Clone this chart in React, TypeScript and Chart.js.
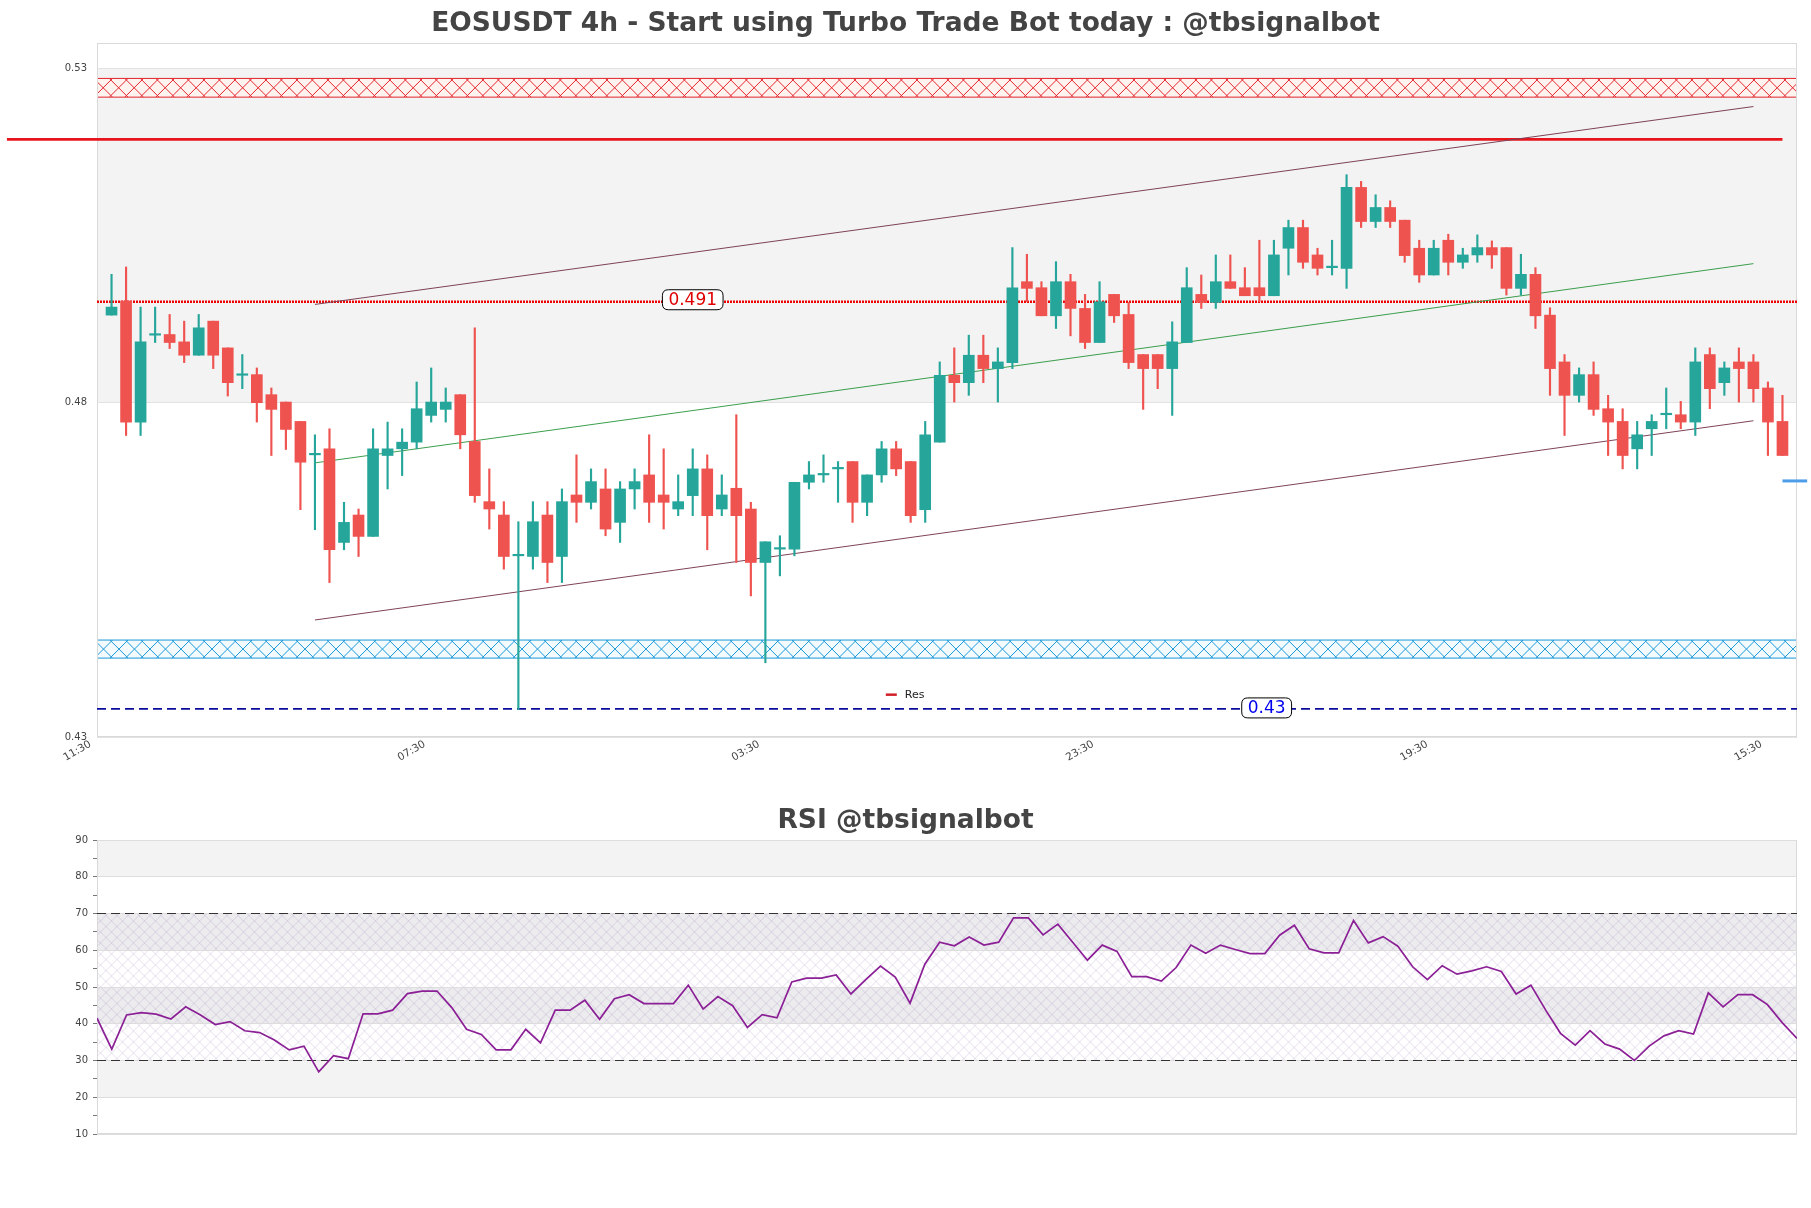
import React, { useEffect, useRef } from 'react';
import { Chart, registerables } from 'chart.js';
Chart.register(...registerables);

const FONT = "'DejaVu Sans', 'Liberation Sans', sans-serif";
const UP = '#26a69a';
const DOWN = '#ef5350';

const mainTitle = 'EOSUSDT 4h - Start using Turbo Trade Bot today : @tbsignalbot';
const rsiTitle = 'RSI @tbsignalbot';

// x axis tick labels (candle index -> time)
const xTickIndex = [0, 23, 46, 69, 92, 115];
const xTickLabels = ['11:30', '07:30', '03:30', '23:30', '19:30', '15:30'];
const priceTicks = [0.43, 0.48, 0.53];

// OHLC values per 4h candle
const opens = [
  0.4931, 0.4952, 0.4771, 0.4901, 0.4902, 0.4891, 0.4871, 0.4922, 0.4882, 0.4841,
  0.4842, 0.4812, 0.4801, 0.4772, 0.4722, 0.4731, 0.4591, 0.4632, 0.4600, 0.4721,
  0.4731, 0.4741, 0.4781, 0.4790, 0.4812, 0.4742, 0.4652, 0.4632, 0.4571, 0.4570,
  0.4632, 0.4570, 0.4662, 0.4651, 0.4671, 0.4621, 0.4671, 0.4692, 0.4662, 0.4641,
  0.4661, 0.4701, 0.4641, 0.4672, 0.4641, 0.4561, 0.4581, 0.4581, 0.4681, 0.4692,
  0.4701, 0.4712, 0.4651, 0.4692, 0.4731, 0.4712, 0.4640, 0.4741, 0.4841, 0.4830,
  0.4871, 0.4851, 0.4860, 0.4981, 0.4972, 0.4930, 0.4981, 0.4941, 0.4890, 0.4962,
  0.4932, 0.4872, 0.4872, 0.4851, 0.4890, 0.4962, 0.4950, 0.4981, 0.4972, 0.4972,
  0.4960, 0.5031, 0.5062, 0.5021, 0.5002, 0.5001, 0.5122, 0.5071, 0.5092, 0.5073,
  0.5031, 0.4991, 0.5043, 0.5010, 0.5021, 0.5032, 0.5032, 0.4971, 0.4992, 0.4931,
  0.4861, 0.4811, 0.4842, 0.4791, 0.4772, 0.4731, 0.4761, 0.4782, 0.4782, 0.4771,
  0.4872, 0.4830, 0.4861, 0.4861, 0.4822, 0.4772,
];
const highs = [
  0.4992, 0.5003, 0.4943, 0.4943, 0.4932, 0.4922, 0.4932, 0.4922, 0.4882, 0.4872,
  0.4852, 0.4822, 0.4801, 0.4772, 0.4752, 0.4761, 0.4651, 0.4641, 0.4761, 0.4771,
  0.4761, 0.4831, 0.4852, 0.4822, 0.4812, 0.4912, 0.4701, 0.4652, 0.4622, 0.4652,
  0.4652, 0.4671, 0.4722, 0.4701, 0.4701, 0.4682, 0.4701, 0.4752, 0.4731, 0.4692,
  0.4731, 0.4722, 0.4692, 0.4782, 0.4651, 0.4592, 0.4601, 0.4681, 0.4712, 0.4722,
  0.4712, 0.4712, 0.4692, 0.4742, 0.4742, 0.4712, 0.4772, 0.4861, 0.4882, 0.4901,
  0.4901, 0.4882, 0.5032, 0.5022, 0.4981, 0.5011, 0.4992, 0.4962, 0.4981, 0.4962,
  0.4950, 0.4872, 0.4872, 0.4921, 0.5002, 0.4991, 0.5021, 0.5021, 0.5002, 0.5043,
  0.5043, 0.5073, 0.5073, 0.5031, 0.5043, 0.5141, 0.5131, 0.5111, 0.5102, 0.5073,
  0.5043, 0.5043, 0.5052, 0.5031, 0.5051, 0.5042, 0.5032, 0.5022, 0.5002, 0.4942,
  0.4872, 0.4852, 0.4861, 0.4811, 0.4791, 0.4772, 0.4782, 0.4822, 0.4802, 0.4882,
  0.4882, 0.4861, 0.4882, 0.4872, 0.4831, 0.4811,
];
const lows = [
  0.4931, 0.4751, 0.4751, 0.4890, 0.4881, 0.4860, 0.4871, 0.4851, 0.4810, 0.4821,
  0.4771, 0.4721, 0.4730, 0.4640, 0.4610, 0.4531, 0.4580, 0.4570, 0.4600, 0.4671,
  0.4691, 0.4731, 0.4771, 0.4771, 0.4731, 0.4651, 0.4611, 0.4551, 0.4341, 0.4551,
  0.4531, 0.4531, 0.4621, 0.4641, 0.4601, 0.4591, 0.4641, 0.4621, 0.4611, 0.4631,
  0.4631, 0.4580, 0.4631, 0.4561, 0.4511, 0.4411, 0.4541, 0.4571, 0.4671, 0.4681,
  0.4651, 0.4621, 0.4631, 0.4681, 0.4691, 0.4621, 0.4621, 0.4741, 0.4801, 0.4811,
  0.4830, 0.4801, 0.4851, 0.4951, 0.4930, 0.4911, 0.4900, 0.4881, 0.4890, 0.4920,
  0.4851, 0.4790, 0.4821, 0.4781, 0.4890, 0.4941, 0.4941, 0.4971, 0.4960, 0.4951,
  0.4960, 0.4991, 0.5001, 0.4991, 0.4991, 0.4971, 0.5062, 0.5062, 0.5062, 0.5010,
  0.4980, 0.4991, 0.4991, 0.5001, 0.5010, 0.5001, 0.4961, 0.4961, 0.4911, 0.4811,
  0.4751, 0.4801, 0.4781, 0.4721, 0.4701, 0.4701, 0.4721, 0.4761, 0.4761, 0.4751,
  0.4791, 0.4811, 0.4801, 0.4801, 0.4721, 0.4721,
];
const closes = [
  0.4943, 0.4771, 0.4891, 0.4901, 0.4890, 0.4871, 0.4912, 0.4871, 0.4830, 0.4841,
  0.4800, 0.4790, 0.4760, 0.4711, 0.4722, 0.4580, 0.4621, 0.4600, 0.4731, 0.4731,
  0.4741, 0.4791, 0.4801, 0.4801, 0.4752, 0.4661, 0.4641, 0.4570, 0.4571, 0.4622,
  0.4561, 0.4652, 0.4651, 0.4682, 0.4611, 0.4671, 0.4682, 0.4651, 0.4651, 0.4652,
  0.4701, 0.4631, 0.4662, 0.4631, 0.4561, 0.4592, 0.4581, 0.4681, 0.4692, 0.4692,
  0.4701, 0.4651, 0.4692, 0.4731, 0.4701, 0.4631, 0.4752, 0.4841, 0.4830, 0.4871,
  0.4851, 0.4861, 0.4972, 0.4971, 0.4930, 0.4981, 0.4941, 0.4890, 0.4951, 0.4930,
  0.4860, 0.4851, 0.4851, 0.4891, 0.4972, 0.4950, 0.4981, 0.4971, 0.4960, 0.4960,
  0.5021, 0.5062, 0.5010, 0.5001, 0.5002, 0.5122, 0.5071, 0.5092, 0.5071, 0.5020,
  0.4991, 0.5031, 0.5010, 0.5021, 0.5032, 0.5021, 0.4971, 0.4992, 0.4930, 0.4851,
  0.4811, 0.4842, 0.4790, 0.4771, 0.4721, 0.4752, 0.4772, 0.4782, 0.4771, 0.4861,
  0.4821, 0.4852, 0.4851, 0.4821, 0.4771, 0.4721,
];

// RSI values
const rsiValues = [
  41.5, 33.1, 42.4, 43.0, 42.6, 41.3, 44.6, 42.4, 39.8, 40.6,
  38.1, 37.6, 35.6, 32.9, 33.9, 26.9, 31.3, 30.5, 42.7, 42.7,
  43.7, 48.2, 48.9, 48.9, 44.4, 38.5, 37.1, 32.9, 32.9, 38.5,
  34.8, 43.7, 43.7, 46.4, 41.2, 46.8, 47.9, 45.5, 45.5, 45.5,
  50.5, 44.0, 47.4, 44.9, 39.0, 42.5, 41.6, 51.4, 52.4, 52.4,
  53.3, 48.1, 52.0, 55.7, 52.7, 45.6, 56.2, 62.2, 61.2, 63.6,
  61.4, 62.2, 68.8, 68.8, 64.2, 67.1, 62.2, 57.3, 61.4, 59.7,
  52.8, 52.8, 51.6, 55.3, 61.4, 59.2, 61.4, 60.2, 59.1, 59.1,
  64.1, 66.8, 60.4, 59.3, 59.3, 68.1, 62.0, 63.7, 61.1, 55.5,
  52.0, 55.8, 53.5, 54.4, 55.5, 54.2, 48.1, 50.5, 43.7, 37.4,
  34.2, 38.1, 34.5, 33.1, 30.0, 33.9, 36.7, 38.1, 37.2, 48.4,
  44.6, 47.9, 47.9, 45.2, 40.3, 36.0,
];
const rsiLevels = [30, 70];
const rsiTicks = [10, 20, 30, 40, 50, 60, 70, 80, 90];

// price levels / zones
const shadedRange = [0.48, 0.53];
const resistanceZone = [0.5257, 0.5285];
const supportZone = [0.4418, 0.4445];
const resLevel = 0.5194;
const dottedLevel = 0.4951;
const dashedLevel = 0.4342;
const lastMarkLevel = 0.4683;
const channelIndex = [14, 113];
const upperChannel = [0.4947, 0.5243];
const midChannel = [0.4710, 0.5008];
const lowerChannel = [0.4475, 0.4773];
const tagTexts = ['0.491', '0.43'];
const tagIndex = [40, 79.5];

function hatchBand(ctx: any, a: any, top: number, bot: number, color: string, bg: string | null, period: number, lw: number) {
  ctx.save();
  if (bg) {
    ctx.fillStyle = bg;
    ctx.fillRect(a.left, top, a.right - a.left, bot - top);
  }
  ctx.beginPath();
  ctx.rect(a.left, top, a.right - a.left, bot - top);
  ctx.clip();
  ctx.strokeStyle = color;
  ctx.lineWidth = lw;
  const h = bot - top;
  ctx.beginPath();
  for (let x0 = a.left - h - period; x0 < a.right + h + period; x0 += period) {
    ctx.moveTo(x0, top);
    ctx.lineTo(x0 + h, bot);
    ctx.moveTo(x0 + h, top);
    ctx.lineTo(x0, bot);
  }
  ctx.stroke();
  ctx.restore();
}

function drawTag(ctx: any, text: string, cx: number, cy: number, color: string) {
  ctx.save();
  ctx.font = `17px ${FONT}`;
  const w = ctx.measureText(text).width;
  const padX = 6;
  const h = 20;
  const x = cx - w / 2 - padX;
  const y = cy - h / 2;
  const bw = w + padX * 2;
  const r = 6;
  ctx.beginPath();
  ctx.moveTo(x + r, y);
  ctx.lineTo(x + bw - r, y);
  ctx.quadraticCurveTo(x + bw, y, x + bw, y + r);
  ctx.lineTo(x + bw, y + h - r);
  ctx.quadraticCurveTo(x + bw, y + h, x + bw - r, y + h);
  ctx.lineTo(x + r, y + h);
  ctx.quadraticCurveTo(x, y + h, x, y + h - r);
  ctx.lineTo(x, y + r);
  ctx.quadraticCurveTo(x, y, x + r, y);
  ctx.closePath();
  ctx.fillStyle = '#ffffff';
  ctx.fill();
  ctx.strokeStyle = '#000000';
  ctx.lineWidth = 1;
  ctx.stroke();
  ctx.fillStyle = color;
  ctx.textAlign = 'center';
  ctx.textBaseline = 'middle';
  ctx.fillText(text, cx, cy + 1);
  ctx.restore();
}

const mainDeco = {
  id: 'mainDeco',
  beforeDraw(chart: any) {
    const { ctx, chartArea: a } = chart;
    const y = chart.scales.y;
    ctx.save();
    ctx.fillStyle = '#444444';
    ctx.font = `bold 26.5px ${FONT}`;
    ctx.textAlign = 'center';
    ctx.textBaseline = 'middle';
    ctx.fillText(mainTitle, chart.width / 2, 24);
    const t = y.getPixelForValue(shadedRange[1]);
    const b = y.getPixelForValue(shadedRange[0]);
    ctx.fillStyle = '#f3f3f3';
    ctx.fillRect(a.left, t, a.right - a.left, b - t);
    const zones: any[] = [
      [resistanceZone, '#e3242b', '#fff3f0'],
      [supportZone, '#1a98d8', '#f3fbff'],
    ];
    zones.forEach(([z, col, bg]) => {
      const zt = y.getPixelForValue(z[1]);
      const zb = y.getPixelForValue(z[0]);
      hatchBand(ctx, a, zt, zb, col, bg, 15.5, 1);
      ctx.strokeStyle = col;
      ctx.lineWidth = 1;
      ctx.beginPath();
      ctx.moveTo(a.left, zt);
      ctx.lineTo(a.right, zt);
      ctx.moveTo(a.left, zb);
      ctx.lineTo(a.right, zb);
      ctx.stroke();
    });
    ctx.strokeStyle = '#d9d9d9';
    ctx.lineWidth = 1;
    ctx.strokeRect(a.left + 0.5, a.top + 0.5, a.right - a.left - 1, a.bottom - a.top - 1);
    ctx.restore();
  },
  afterDatasetsDraw(chart: any) {
    const { ctx } = chart;
    const x = chart.scales.x;
    const y = chart.scales.y;
    drawTag(ctx, tagTexts[0], x.getPixelForValue(tagIndex[0]), y.getPixelForValue(dottedLevel) - 2, '#e00000');
    drawTag(ctx, tagTexts[1], x.getPixelForValue(tagIndex[1]), y.getPixelForValue(dashedLevel) - 1, '#0000ee');
  },
  afterDraw(chart: any) {
    const { ctx, chartArea: a } = chart;
    const lx = a.left + (a.right - a.left) * 0.464;
    const ly = a.top + (a.bottom - a.top) * 0.939;
    ctx.save();
    ctx.strokeStyle = '#d0202a';
    ctx.lineWidth = 2.5;
    ctx.beginPath();
    ctx.moveTo(lx, ly);
    ctx.lineTo(lx + 11, ly);
    ctx.stroke();
    ctx.fillStyle = '#222222';
    ctx.font = `11px ${FONT}`;
    ctx.textAlign = 'left';
    ctx.textBaseline = 'middle';
    ctx.fillText('Res', lx + 19, ly);
    ctx.restore();
  },
};

const rsiDeco = {
  id: 'rsiDeco',
  beforeDraw(chart: any) {
    const { ctx, chartArea: a } = chart;
    const y = chart.scales.y;
    ctx.save();
    ctx.fillStyle = '#444444';
    ctx.font = `bold 26.5px ${FONT}`;
    ctx.textAlign = 'center';
    ctx.textBaseline = 'middle';
    ctx.fillText(rsiTitle, chart.width / 2, 41);
    const bands: any[] = [
      [80, 90, '#f3f3f3'],
      [20, 30, '#f3f3f3'],
      [60, 70, '#ececef'],
      [40, 50, '#ececef'],
    ];
    bands.forEach(([lo, hi, col]) => {
      const t = y.getPixelForValue(hi);
      const b = y.getPixelForValue(lo);
      ctx.fillStyle = col;
      ctx.fillRect(a.left, t, a.right - a.left, b - t);
    });
    const ht = y.getPixelForValue(rsiLevels[1]);
    const hb = y.getPixelForValue(rsiLevels[0]);
    ctx.save();
    ctx.beginPath();
    ctx.rect(a.left, ht, a.right - a.left, hb - ht);
    ctx.clip();
    ctx.strokeStyle = 'rgba(150,115,175,0.3)';
    ctx.lineWidth = 0.8;
    const p = 11;
    const H = hb - ht;
    ctx.beginPath();
    for (let x0 = a.left - H - p; x0 < a.right + H + p; x0 += p) {
      ctx.moveTo(x0, ht);
      ctx.lineTo(x0 + H, hb);
      ctx.moveTo(x0 + H, ht);
      ctx.lineTo(x0, hb);
    }
    ctx.stroke();
    ctx.restore();
    ctx.strokeStyle = '#d9d9d9';
    ctx.lineWidth = 1;
    ctx.strokeRect(a.left + 0.5, a.top + 0.5, a.right - a.left - 1, a.bottom - a.top - 1);
    ctx.restore();
  },
};

function lineDs(label: string, pts: any[], color: string, width: number, dash: number[], noClip: boolean) {
  const ds: any = {
    type: 'line',
    label,
    data: pts,
    borderColor: color,
    backgroundColor: color,
    borderWidth: width,
    borderDash: dash,
    pointRadius: 0,
    fill: false,
    tension: 0,
    order: 5,
  };
  if (noClip) ds.clip = false;
  return ds;
}

function mainConfig(): any {
  const idx = closes.map((_, i) => i);
  const colors = idx.map((i) => (closes[i] >= opens[i] ? UP : DOWN));
  const xmin = -1;
  const xmax = closes.length;
  return {
    type: 'bar',
    data: {
      datasets: [
        {
          type: 'bar',
          label: 'body',
          data: idx.map((i) => ({ x: i, y: [opens[i], closes[i]] })),
          backgroundColor: colors,
          borderWidth: 0,
          barThickness: 11,
          minBarLength: 1.5,
          grouped: false,
          order: 0,
        },
        {
          type: 'bar',
          label: 'wick',
          data: idx.map((i) => ({ x: i, y: [lows[i], highs[i]] })),
          backgroundColor: colors,
          borderWidth: 0,
          barThickness: 1.5,
          grouped: false,
          order: 1,
        },
        lineDs('upper', channelIndex.map((x, k) => ({ x, y: upperChannel[k] })), '#7e4257', 1, [], false),
        lineDs('mid', channelIndex.map((x, k) => ({ x, y: midChannel[k] })), '#3b9e4c', 1, [], false),
        lineDs('lower', channelIndex.map((x, k) => ({ x, y: lowerChannel[k] })), '#7e4257', 1, [], false),
        lineDs('dotted', [{ x: xmin, y: dottedLevel }, { x: xmax, y: dottedLevel }], '#ee0000', 2.6, [2, 1], false),
        lineDs('dashed', [{ x: xmin, y: dashedLevel }, { x: xmax, y: dashedLevel }], '#0c0c9c', 1.6, [9, 5], false),
        lineDs('Res', [{ x: -7.2, y: resLevel }, { x: closes.length - 1, y: resLevel }], '#e8141c', 2.8, [], true),
        lineDs('last', [{ x: closes.length - 1, y: lastMarkLevel }, { x: closes.length + 0.7, y: lastMarkLevel }], '#4d9de8', 3, [], true),
      ],
    },
    options: {
      responsive: false,
      animation: false,
      devicePixelRatio: 1,
      events: [],
      layout: { padding: { top: 43, right: 14, left: 0, bottom: 0 } },
      plugins: { legend: { display: false }, tooltip: { enabled: false }, title: { display: false } },
      scales: {
        x: {
          type: 'linear',
          min: xmin,
          max: xmax,
          offset: false,
          grid: { display: false, drawTicks: false },
          border: { display: false },
          afterBuildTicks: (s: any) => {
            s.ticks = xTickIndex.map((v) => ({ value: v }));
          },
          afterFit: (s: any) => {
            s.height = 43;
          },
          ticks: {
            autoSkip: false,
            minRotation: 30,
            maxRotation: 30,
            padding: 1,
            labelOffset: -21,
            color: '#444444',
            font: { family: FONT, size: 10.5 },
            callback: (v: any) => {
              const k = xTickIndex.indexOf(Number(v));
              return k >= 0 ? xTickLabels[k] : '';
            },
          },
        },
        y: {
          type: 'linear',
          min: 0.43,
          max: 0.5338,
          beginAtZero: false,
          grid: { color: '#e2e2e2', drawTicks: false },
          border: { display: false },
          afterBuildTicks: (s: any) => {
            s.ticks = priceTicks.map((v) => ({ value: v }));
          },
          afterFit: (s: any) => {
            s.width = 97;
          },
          ticks: {
            padding: 10,
            color: '#444444',
            font: { family: FONT, size: 10 },
            callback: (v: any) => Number(v).toFixed(2),
          },
        },
      },
    },
    plugins: [mainDeco],
  };
}

function rsiConfig(): any {
  const last = rsiValues.length - 1;
  return {
    type: 'line',
    data: {
      datasets: [
        {
          label: 'RSI',
          data: rsiValues.map((v, i) => ({ x: i, y: v })),
          borderColor: '#8b1f96',
          borderWidth: 1.7,
          pointRadius: 0,
          tension: 0,
          fill: false,
          order: 0,
        },
        ...rsiLevels.map((lv) => ({
          label: 'lvl' + lv,
          data: [{ x: 0, y: lv }, { x: last, y: lv }],
          borderColor: '#333333',
          borderWidth: 1.2,
          borderDash: [9, 5],
          pointRadius: 0,
          fill: false,
          order: 1,
        })),
      ],
    },
    options: {
      responsive: false,
      animation: false,
      devicePixelRatio: 1,
      events: [],
      layout: { padding: { top: 60, right: 14, left: 0, bottom: 74 } },
      plugins: { legend: { display: false }, tooltip: { enabled: false }, title: { display: false } },
      scales: {
        x: { type: 'linear', min: 0, max: last, display: false },
        y: {
          type: 'linear',
          min: 10,
          max: 90,
          afterBuildTicks: (s: any) => {
            const t: any[] = [];
            rsiTicks.forEach((v, k) => {
              t.push({ value: v });
              if (k < rsiTicks.length - 1) t.push({ value: v + 5 });
            });
            s.ticks = t;
          },
          afterFit: (s: any) => {
            s.width = 97;
          },
          grid: {
            color: (c: any) => (c.tick && c.tick.value % 10 === 0 ? '#dddddd' : 'rgba(0,0,0,0)'),
            tickColor: '#777777',
            tickLength: 4,
            drawTicks: true,
          },
          border: { display: false },
          ticks: {
            padding: 5,
            color: '#444444',
            font: { family: FONT, size: 10 },
            callback: (v: any) => (Number(v) % 10 === 0 ? String(v) : ''),
          },
        },
      },
    },
    plugins: [rsiDeco],
  };
}

export default function App() {
  const mainRef = useRef<HTMLCanvasElement>(null);
  const rsiRef = useRef<HTMLCanvasElement>(null);
  useEffect(() => {
    const main = new Chart(mainRef.current as HTMLCanvasElement, mainConfig());
    const rsi = new Chart(rsiRef.current as HTMLCanvasElement, rsiConfig());
    return () => {
      main.destroy();
      rsi.destroy();
    };
  }, []);
  return (
    <div style={{ position: 'absolute', left: 0, top: 0, width: 1811, height: 1208, background: '#ffffff' }}>
      <canvas
        ref={mainRef}
        width={1811}
        height={780}
        style={{ position: 'absolute', left: 0, top: 0, width: 1811, height: 780 }}
      />
      <canvas
        ref={rsiRef}
        width={1811}
        height={428}
        style={{ position: 'absolute', left: 0, top: 780, width: 1811, height: 428 }}
      />
    </div>
  );
}
